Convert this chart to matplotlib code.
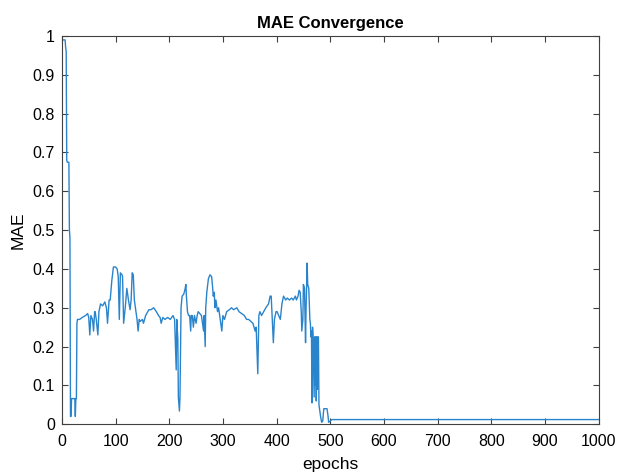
import matplotlib
matplotlib.use("Agg")
import matplotlib.pyplot as plt
from matplotlib.ticker import FuncFormatter

epochs = [0, 6, 7, 8, 9, 10, 13, 14, 15, 16, 17, 18, 24, 25, 26, 27, 28, 29, 33, 38,
          44, 48, 50, 52, 54, 57, 59, 61, 62, 64, 67, 69, 72, 76, 80, 83, 85, 88, 90, 93,
          96, 100, 103, 105, 107, 109, 112, 113, 115, 118, 121, 124, 127, 129, 131, 133, 135, 138, 140, 142,
          144, 146, 150, 152, 156, 162, 166, 171, 176, 180, 183, 185, 188, 192, 197, 202, 207, 210, 212, 213,
          214, 216, 217, 219, 220, 222, 224, 227, 229, 231, 232, 234, 236, 238, 240, 241, 243, 245, 247, 250,
          252, 254, 257, 260, 263, 264, 265, 267, 268, 270, 273, 276, 279, 281, 282, 284, 285, 287, 290, 292,
          295, 298, 300, 303, 307, 312, 316, 320, 326, 330, 335, 340, 344, 348, 352, 356, 360, 362, 365, 367,
          369, 372, 376, 380, 385, 388, 390, 392, 394, 396, 399, 401, 404, 407, 410, 413, 417, 420, 424, 428,
          431, 435, 437, 440, 442, 444, 446, 447, 449, 450, 452, 454, 455, 457, 458, 460, 462, 463, 464, 465,
          466, 467, 468, 470, 471, 472, 473, 474, 475, 476, 477, 478, 479, 482, 484, 486, 488, 494, 496, 497,
          500, 503, 1000]

mae = [0.99, 0.99, 0.97, 0.96, 0.68, 0.675, 0.675, 0.50, 0.48, 0.02, 0.02, 0.066, 0.066, 0.02, 0.066, 0.066, 0.26, 0.27, 0.27, 0.275,
       0.28, 0.285, 0.275, 0.23, 0.28, 0.27, 0.24, 0.29, 0.29, 0.27, 0.23, 0.29, 0.31, 0.305, 0.315, 0.30, 0.26, 0.32, 0.32, 0.37,
       0.405, 0.405, 0.40, 0.38, 0.27, 0.39, 0.385, 0.38, 0.26, 0.30, 0.35, 0.32, 0.295, 0.32, 0.39, 0.385, 0.32, 0.29, 0.27, 0.24,
       0.27, 0.265, 0.27, 0.26, 0.28, 0.295, 0.295, 0.30, 0.29, 0.28, 0.275, 0.26, 0.275, 0.27, 0.275, 0.27, 0.28, 0.27, 0.18, 0.14,
       0.27, 0.22, 0.07, 0.034, 0.07, 0.30, 0.33, 0.335, 0.345, 0.36, 0.33, 0.29, 0.28, 0.28, 0.24, 0.28, 0.28, 0.25, 0.28, 0.26,
       0.28, 0.29, 0.285, 0.28, 0.25, 0.24, 0.28, 0.20, 0.30, 0.34, 0.375, 0.385, 0.38, 0.35, 0.33, 0.34, 0.30, 0.32, 0.29, 0.30,
       0.27, 0.24, 0.28, 0.27, 0.29, 0.295, 0.30, 0.295, 0.30, 0.29, 0.285, 0.28, 0.27, 0.27, 0.265, 0.26, 0.24, 0.25, 0.13, 0.28,
       0.29, 0.28, 0.29, 0.30, 0.31, 0.33, 0.33, 0.27, 0.21, 0.27, 0.29, 0.29, 0.28, 0.27, 0.31, 0.33, 0.32, 0.325, 0.32, 0.325,
       0.32, 0.33, 0.32, 0.33, 0.345, 0.34, 0.29, 0.24, 0.27, 0.36, 0.35, 0.21, 0.30, 0.415, 0.36, 0.35, 0.27, 0.26, 0.225, 0.24,
       0.055, 0.25, 0.225, 0.07, 0.225, 0.10, 0.225, 0.06, 0.225, 0.09, 0.225, 0.225, 0.05, 0.02, 0.005, 0.008, 0.04, 0.04, 0.02, 0.005,
       0.008, 0.012, 0.012]

x_ticks = list(range(0, 1001, 100))
y_ticks = [0, 0.1, 0.2, 0.3, 0.4, 0.5, 0.6, 0.7, 0.8, 0.9, 1]

plt.rcParams['font.family'] = ['Liberation Sans', 'DejaVu Sans']

fig = plt.figure(figsize=(6.19, 4.74), dpi=100)
ax = fig.add_axes([0.100, 0.105, 0.867, 0.819])
ax.plot(epochs, mae, color='#2a84cc', lw=1.0)

ax.set_xlim(0, 1000)
ax.set_ylim(0, 1)
ax.set_xticks(x_ticks)
ax.set_yticks(y_ticks)
ax.yaxis.set_major_formatter(FuncFormatter(lambda v, p: f"{v:g}"))
ax.tick_params(direction='in', length=4, width=0.8, colors='#404040',
               labelsize=11.5, pad=5, top=True, right=True, labelcolor='black')
ax.tick_params(axis='x', pad=7)
for s in ax.spines.values():
    s.set_color('#404040')
    s.set_linewidth(0.8)

ax.set_xlabel('epochs', fontsize=12.5, labelpad=6)
ax.set_ylabel('MAE', fontsize=12.5, labelpad=5)
ax.set_title('MAE Convergence', fontsize=12, fontweight='bold', pad=6)

fig.savefig('out.png', dpi=100)
